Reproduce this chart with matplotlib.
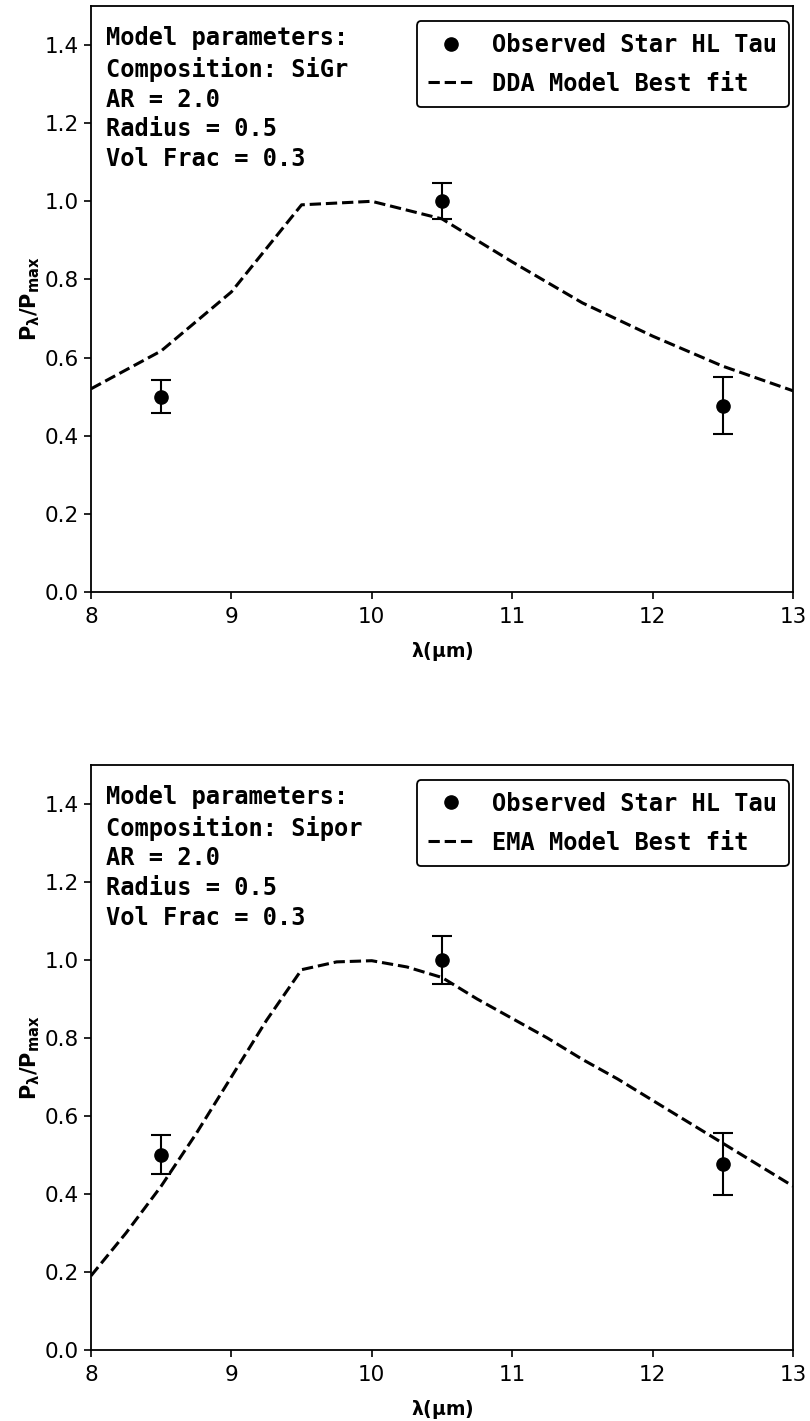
import matplotlib
matplotlib.use("Agg")
import matplotlib.pyplot as plt
from matplotlib.lines import Line2D

# Observed data
obs_wl = [8.5, 10.5, 12.5]
obs_top = [0.50, 1.00, 0.477]
err_top = [0.043, 0.046, 0.073]
obs_bot = [0.50, 1.00, 0.477]
err_bot = [0.05, 0.062, 0.08]

# DDA model (top)
dda_wl = [8.0, 8.5, 9.0, 9.5, 10.0, 10.5, 11.0, 11.5, 12.0, 12.5, 13.0]
dda_val = [0.52, 0.617, 0.768, 0.991, 1.0, 0.955, 0.845, 0.74, 0.655, 0.578, 0.515]

# EMA model (bottom)
ema_wl = [8.0, 8.25, 8.5, 8.75, 9.0, 9.25, 9.5, 9.75, 10.0, 10.25, 10.5,
          10.75, 11.0, 11.25, 11.5, 11.75, 12.0, 12.25, 12.5, 12.75, 13.0]
ema_val = [0.19, 0.30, 0.42, 0.555, 0.70, 0.845, 0.975, 0.995, 0.998, 0.982, 0.955,
           0.90, 0.85, 0.80, 0.745, 0.695, 0.64, 0.585, 0.53, 0.475, 0.42]

panels = [
    dict(model_wl=dda_wl, model_val=dda_val, obs=obs_top, err=err_top,
         label="DDA Model Best fit", comp="SiGr"),
    dict(model_wl=ema_wl, model_val=ema_val, obs=obs_bot, err=err_bot,
         label="EMA Model Best fit", comp="Sipor"),
]

fig = plt.figure(figsize=(8.1, 14.21), dpi=100)
axes_rects = [[0.1123, 0.5834, 0.8667, 0.4124], [0.1123, 0.05, 0.8667, 0.4117]]

mono = dict(family="DejaVu Sans Mono", weight="bold", size=17)

for rect, p in zip(axes_rects, panels):
    ax = fig.add_axes(rect)
    ax.errorbar(obs_wl, p["obs"], yerr=p["err"], fmt="o", color="black",
                markersize=9.5, capsize=7, elinewidth=1.5, capthick=1.5,
                zorder=3)
    ax.plot(p["model_wl"], p["model_val"], "k--", linewidth=2.2)
    ax.set_xlim(8, 13)
    ax.set_ylim(0, 1.5)
    ax.set_yticks([0.0, 0.2, 0.4, 0.6, 0.8, 1.0, 1.2, 1.4])
    ax.set_xticks([8, 9, 10, 11, 12, 13])
    ax.tick_params(labelsize=15.5, width=1.2, length=5)
    ax.tick_params(axis="x", pad=5.5)
    for s in ax.spines.values():
        s.set_linewidth(1.3)
    ax.set_xlabel(r"$\mathbf{\lambda(\mu m)}$", fontsize=13.5, labelpad=10)
    ax.set_ylabel(r"$\mathbf{P_{\lambda}/P_{max}}$", fontsize=15, labelpad=2)
    txt = ("Model parameters:\nComposition: " + p["comp"] +
           "\nAR = 2.0\nRadius = 0.5\nVol Frac = 0.3")
    ax.text(0.022, 0.965, txt, transform=ax.transAxes, va="top", ha="left",
            fontdict=mono, linespacing=1.31)
    handles = [
        Line2D([], [], marker="o", color="black", linestyle="none", markersize=9.5),
        Line2D([], [], color="black", linestyle="--", linewidth=2.2),
    ]
    leg = ax.legend(handles, ["Observed Star HL Tau", p["label"]],
                    loc="upper right", bbox_to_anchor=(0.9943, 0.9744),
                    borderaxespad=0, prop=mono, framealpha=1,
                    edgecolor="black", handlelength=1.95, labelspacing=0.63,
                    borderpad=0.5, handletextpad=0.75)
    leg.get_frame().set_linewidth(1.3)

fig.savefig("out.png", dpi=100)
